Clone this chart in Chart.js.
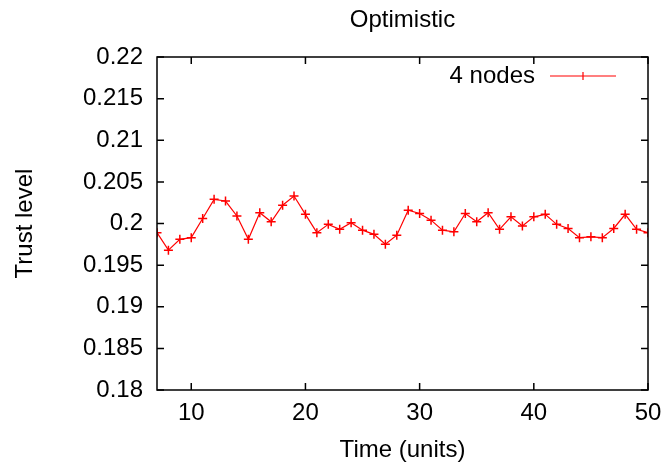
<!DOCTYPE html>
<html>
<head>
<meta charset="utf-8">
<script src="https://cdn.jsdelivr.net/npm/chart.js@4/dist/chart.umd.min.js"></script>
<style>
html,body{margin:0;padding:0;background:#fff;}
#wrap{width:664px;height:468px;position:relative;}
</style>
</head>
<body>
<div id="wrap"><canvas id="c" width="664" height="468"></canvas></div>
<script>
const chartTitle = "Optimistic";
const xTitle = "Time (units)";
const yTitle = "Trust level";
const seriesLabel = "4 nodes";
const timeUnits = [7,8,9,10,11,12,13,14,15,16,17,18,19,20,21,22,23,24,25,26,27,28,29,30,31,32,33,34,35,36,37,38,39,40,41,42,43,44,45,46,47,48,49,50];
const trustLevel = [0.1989,0.1968,0.1981,0.1983,0.2006,0.2029,0.2027,0.2009,0.1981,0.2013,0.2002,0.2022,0.2033,0.2011,0.1989,0.1999,0.1993,0.2001,0.1992,0.1987,0.1975,0.1986,0.2016,0.2012,0.2004,0.1992,0.1990,0.2012,0.2002,0.2013,0.1993,0.2008,0.1997,0.2008,0.2011,0.1999,0.1994,0.1983,0.1984,0.1983,0.1994,0.2011,0.1993,0.1989];
const xTicks = [10,20,30,40,50];
const yTicks = [0.18,0.185,0.19,0.195,0.2,0.205,0.21,0.215,0.22];

const FONT = "'Liberation Sans', Arial, sans-serif";
const FS = 24;
const RED = "#ff0000";

const gnuplotFrame = {
  id: 'gnuplotFrame',
  afterDatasetsDraw(chart) {
    const {ctx, chartArea: a, scales: {x, y}} = chart;
    const tl = 7;
    ctx.save();
    ctx.strokeStyle = '#000';
    ctx.lineWidth = 1.5;
    ctx.beginPath();
    xTicks.forEach(v => {
      const px = x.getPixelForValue(v);
      ctx.moveTo(px, a.bottom); ctx.lineTo(px, a.bottom - tl);
      ctx.moveTo(px, a.top); ctx.lineTo(px, a.top + tl);
    });
    yTicks.forEach(v => {
      const py = y.getPixelForValue(v);
      ctx.moveTo(a.left, py); ctx.lineTo(a.left + tl, py);
      ctx.moveTo(a.right, py); ctx.lineTo(a.right - tl, py);
    });
    ctx.stroke();
    ctx.strokeRect(a.left, a.top, a.right - a.left, a.bottom - a.top);
    // title
    ctx.fillStyle = '#000';
    ctx.font = FS + 'px ' + FONT;
    ctx.textAlign = 'center';
    ctx.textBaseline = 'middle';
    ctx.fillText(chartTitle, (a.left + a.right) / 2, 20);
    // legend
    const ly = a.top + 19;
    ctx.textAlign = 'right';
    ctx.fillText(chart.data.datasets[0].label, a.right - 113, ly);
    ctx.strokeStyle = RED;
    ctx.lineWidth = 1.2;
    ctx.beginPath();
    ctx.moveTo(a.right - 98, ly); ctx.lineTo(a.right - 32, ly);
    const mx = a.right - 65;
    ctx.moveTo(mx - 4, ly); ctx.lineTo(mx + 4, ly);
    ctx.moveTo(mx, ly - 4); ctx.lineTo(mx, ly + 4);
    ctx.stroke();
    ctx.restore();
  }
};

new Chart(document.getElementById('c'), {
  type: 'line',
  data: {
    datasets: [{
      label: seriesLabel,
      data: timeUnits.map((t, i) => ({x: t, y: trustLevel[i]})),
      borderColor: RED,
      backgroundColor: RED,
      borderWidth: 1.2,
      pointStyle: 'cross',
      pointRadius: 4.5,
      pointBorderWidth: 1.5,
      pointBorderColor: RED,
      tension: 0,
      fill: false
    }]
  },
  options: {
    responsive: false,
    animation: false,
    devicePixelRatio: 1,
    layout: {padding: {top: 57, right: 16, bottom: 0, left: 0}},
    plugins: {legend: {display: false}, title: {display: false}, tooltip: {enabled: false}},
    scales: {
      x: {
        type: 'linear',
        min: 7, max: 50,
        afterBuildTicks: s => { s.ticks = xTicks.map(v => ({value: v})); },
        afterFit: s => { s.height = 78; s.paddingRight = 0; s.paddingLeft = 0; },
        grid: {display: true, drawOnChartArea: false, drawTicks: false},
        border: {display: false},
        ticks: {font: {family: FONT, size: FS}, color: '#000', padding: 9, maxRotation: 0},
        title: {display: true, text: xTitle, font: {family: FONT, size: FS}, color: '#000', padding: {top: 0, bottom: 3}}
      },
      y: {
        type: 'linear',
        min: 0.18, max: 0.22,
        afterBuildTicks: s => { s.ticks = yTicks.map(v => ({value: v})); },
        afterFit: s => { s.width = 157; s.paddingTop = 0; s.paddingBottom = 0; },
        grid: {display: true, drawOnChartArea: false, drawTicks: false},
        border: {display: false},
        ticks: {font: {family: FONT, size: FS}, color: '#000', padding: 14,
          callback: v => String(parseFloat(v.toFixed(3)))},
        title: {display: true, text: yTitle, font: {family: FONT, size: FS}, color: '#000', padding: {top: 11, bottom: 0}}
      }
    }
  },
  plugins: [gnuplotFrame]
});
</script>
</body>
</html>
